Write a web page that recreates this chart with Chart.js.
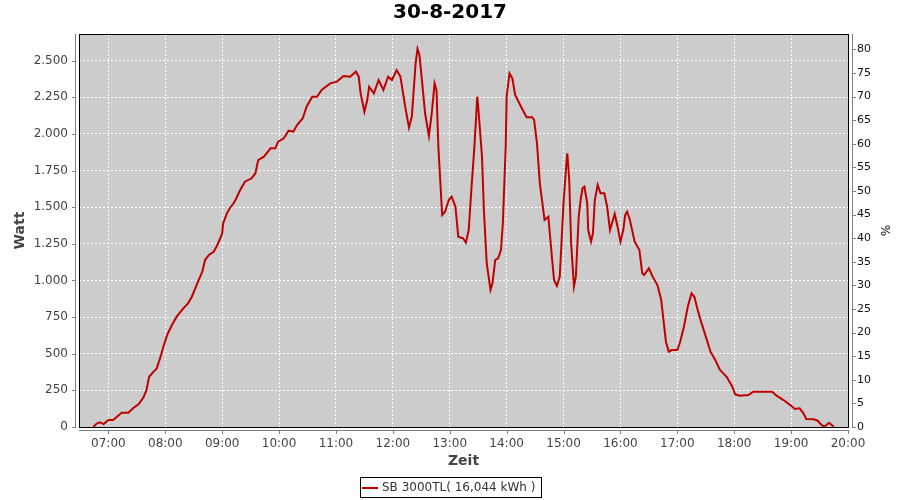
<!DOCTYPE html>
<html lang="de">
<head>
    <meta charset="UTF-8">
    <title>30-8-2017</title>
    <script src="https://cdn.jsdelivr.net/npm/chart.js"></script>
    <style>
        body {
            margin: 0;
            background: #ffffff;
        }
        #wrap {
            width: 900px;
            height: 500px;
        }
    </style>
</head>
<body>
    <div id="wrap"><canvas id="solarChart" width="900" height="500"></canvas></div>

    <script>
        // readings of the day (time of day, power in W)
        const times = [
            '06:44', '06:48', '06:51', '06:55', '07:00', '07:05', '07:14', '07:21', '07:26', '07:32',
            '07:37', '07:40', '07:43', '07:47', '07:51', '07:55', '07:58', '08:02', '08:07', '08:12',
            '08:19', '08:24', '08:28', '08:33', '08:39', '08:42', '08:46', '08:51', '08:54', '08:58',
            '09:00', '09:01', '09:05', '09:08', '09:12', '09:14', '09:19', '09:24', '09:31', '09:35',
            '09:38', '09:44', '09:51', '09:56', '09:59', '10:05', '10:10', '10:15', '10:19', '10:25',
            '10:29', '10:35', '10:40', '10:45', '10:54', '11:01', '11:08', '11:15', '11:21', '11:24',
            '11:26', '11:30', '11:33', '11:35', '11:40', '11:45', '11:50', '11:55', '11:59', '12:04',
            '12:08', '12:13', '12:17', '12:20', '12:24', '12:26', '12:28', '12:31', '12:34', '12:38',
            '12:41', '12:44', '12:46', '12:48', '12:52', '12:55', '12:59', '13:02', '13:06', '13:09',
            '13:14', '13:17', '13:20', '13:23', '13:26', '13:29', '13:30', '13:34', '13:36', '13:39',
            '13:43', '13:45', '13:48', '13:51', '13:54', '13:56', '13:59', '14:00', '14:03', '14:06',
            '14:09', '14:16', '14:21', '14:27', '14:29', '14:32', '14:35', '14:40', '14:42', '14:44',
            '14:48', '14:50', '14:53', '14:56', '15:00', '15:03', '15:04', '15:06', '15:08', '15:11',
            '15:13', '15:16', '15:18', '15:20', '15:22', '15:25', '15:26', '15:29', '15:31', '15:33',
            '15:36', '15:39', '15:43', '15:46', '15:49', '15:54', '15:57', '16:00', '16:03', '16:05',
            '16:07', '16:10', '16:15', '16:20', '16:23', '16:25', '16:30', '16:34', '16:39', '16:43',
            '16:45', '16:48', '16:51', '16:54', '17:00', '17:03', '17:07', '17:11', '17:15', '17:18',
            '17:21', '17:25', '17:29', '17:35', '17:40', '17:45', '17:52', '17:58', '18:01', '18:06',
            '18:15', '18:20', '18:29', '18:40', '18:45', '18:52', '18:59', '19:04', '19:09', '19:13',
            '19:16', '19:24', '19:28', '19:32', '19:35', '19:40', '19:45'
        ];
        const watts = [
            0, 25, 32, 20, 48, 48, 98, 98, 128, 157,
            203, 248, 343, 373, 400, 480, 548, 628, 696, 753,
            810, 844, 889, 969, 1060, 1140, 1174, 1196, 1230, 1288,
            1322, 1390, 1458, 1493, 1527, 1549, 1617, 1674, 1697, 1731,
            1822, 1845, 1902, 1902, 1947, 1970, 2022, 2015, 2061, 2107,
            2186, 2254, 2254, 2300, 2345, 2357, 2395, 2391, 2425, 2391,
            2277, 2152, 2232, 2322, 2277, 2368, 2300, 2391, 2368, 2436,
            2391, 2186, 2043, 2118, 2482, 2580, 2539, 2345, 2141, 1986,
            2141, 2345, 2300, 1913, 1447, 1469, 1549, 1572, 1503, 1299,
            1288, 1258, 1344, 1640, 1913, 2254, 2186, 1845, 1481, 1117,
            935, 981, 1140, 1151, 1208, 1390, 1913, 2254, 2413, 2380,
            2266, 2175, 2114, 2114, 2095, 1936, 1663, 1413, 1424, 1435,
            1140, 1003, 962, 1026, 1527, 1800, 1868, 1686, 1254, 958,
            1026, 1435, 1549, 1629, 1640, 1527, 1344, 1265, 1322, 1549,
            1652, 1595, 1595, 1503, 1344, 1454, 1367, 1265, 1344, 1447,
            1469, 1413, 1265, 1208, 1049, 1037, 1083, 1026, 969, 867,
            753, 582, 514, 525, 525, 582, 685, 821, 912, 889,
            810, 719, 639, 514, 457, 389, 343, 275, 223, 214,
            218, 241, 241, 241, 212, 184, 150, 123, 128, 93,
            55, 53, 43, 14, 2, 29, 2
        ];

        // axis ticks
        const hourTicks = ['07:00', '08:00', '09:00', '10:00', '11:00', '12:00', '13:00',
                           '14:00', '15:00', '16:00', '17:00', '18:00', '19:00', '20:00'];
        const wattTicks = [0, 250, 500, 750, 1000, 1250, 1500, 1750, 2000, 2250, 2500];
        const pctTicks = [0, 5, 10, 15, 20, 25, 30, 35, 40, 45, 50, 55, 60, 65, 70, 75, 80];

        const seriesLabel = 'SB 3000TL( 16,044 kWh )';

        function toMinutes(t) {
            const p = t.split(':');
            return parseInt(p[0], 10) * 60 + parseInt(p[1], 10);
        }
        function fmtTime(m) {
            const h = Math.floor(m / 60), mm = Math.round(m % 60);
            return String(h).padStart(2, '0') + ':' + String(mm).padStart(2, '0');
        }
        function fmtWatt(v) {
            if (v < 1000) return String(v);
            return Math.floor(v / 1000) + '.' + String(v % 1000).padStart(3, '0');
        }

        const points = times.map((t, i) => ({ x: toMinutes(t), y: watts[i] }));

        Chart.defaults.font.family = "'DejaVu Sans', sans-serif";
        Chart.defaults.color = '#444';

        // plot background, frame, offset axis lines, tick marks and legend box
        const plotDecor = {
            id: 'plotDecor',
            beforeDraw(chart) {
                const { ctx, chartArea: a } = chart;
                ctx.save();
                ctx.fillStyle = '#ffffff';
                ctx.fillRect(0, 0, chart.width, chart.height);
                ctx.fillStyle = '#cccccc';
                ctx.fillRect(a.left, a.top, a.right - a.left, a.bottom - a.top);
                ctx.restore();
            },
            afterDraw(chart) {
                const { ctx, chartArea: a, scales } = chart;
                ctx.save();
                ctx.strokeStyle = '#000';
                ctx.lineWidth = 1;
                ctx.strokeRect(a.left + 0.5, a.top + 0.5, a.right - a.left, a.bottom - a.top);

                ctx.fillStyle = '#808080';
                // left axis
                ctx.fillRect(a.left - 4, a.top, 1, a.bottom - a.top + 1);
                scales.y.ticks.forEach(t => {
                    const y = Math.round(scales.y.getPixelForValue(t.value));
                    ctx.fillRect(a.left - 7, y, 4, 1);
                });
                // right axis
                ctx.fillRect(a.right + 4, a.top, 1, a.bottom - a.top + 1);
                scales.y2.ticks.forEach(t => {
                    const y = Math.round(scales.y2.getPixelForValue(t.value));
                    ctx.fillRect(a.right + 4, y, 4, 1);
                });
                // bottom axis
                ctx.fillRect(a.left, a.bottom + 3, a.right - a.left + 1, 1);
                scales.x.ticks.forEach(t => {
                    const x = Math.round(scales.x.getPixelForValue(t.value));
                    ctx.fillRect(x, a.bottom + 3, 1, 4);
                });

                // legend
                const ds = chart.data.datasets[0];
                ctx.font = "12px 'DejaVu Sans', sans-serif";
                const tw = ctx.measureText(ds.label).width;
                const boxW = Math.round(tw + 28);
                const bx = Math.round(chart.width / 2 - boxW / 2);
                const by = 477;
                ctx.strokeStyle = '#000';
                ctx.strokeRect(bx + 0.5, by + 0.5, boxW, 20);
                ctx.strokeStyle = ds.borderColor;
                ctx.lineWidth = 2;
                ctx.beginPath();
                ctx.moveTo(bx + 2, by + 11);
                ctx.lineTo(bx + 18, by + 11);
                ctx.stroke();
                ctx.fillStyle = '#333';
                ctx.textBaseline = 'middle';
                ctx.textAlign = 'left';
                ctx.fillText(ds.label, bx + 22, by + 11);
                ctx.restore();
            }
        };

        const ctx = document.getElementById('solarChart').getContext('2d');
        const solarChart = new Chart(ctx, {
            type: 'line',
            data: {
                datasets: [{
                    label: seriesLabel,
                    data: points,
                    borderColor: '#c00000',
                    borderWidth: 2,
                    pointRadius: 0,
                    tension: 0,
                    fill: false,
                    yAxisID: 'y'
                }]
            },
            options: {
                responsive: false,
                animation: false,
                layout: {
                    padding: { left: 0, right: 0, top: 0, bottom: 28 }
                },
                plugins: {
                    legend: { display: false },
                    tooltip: { enabled: false },
                    title: {
                        display: true,
                        text: '30-8-2017',
                        color: '#000',
                        font: { size: 20, weight: 'bold' },
                        padding: { top: 1, bottom: 9 }
                    }
                },
                scales: {
                    x: {
                        type: 'linear',
                        min: 389,
                        max: 1200,
                        afterBuildTicks: s => { s.ticks = hourTicks.map(t => ({ value: toMinutes(t) })); },
                        afterFit: s => { s.height = 45; },
                        ticks: {
                            callback: v => fmtTime(v),
                            autoSkip: false,
                            maxRotation: 0,
                            padding: 10,
                            color: '#444',
                            font: { size: 12 }
                        },
                        grid: { color: '#ffffff', lineWidth: 1, drawTicks: false },
                        border: { display: false, dash: [2, 2] },
                        title: {
                            display: true,
                            text: 'Zeit',
                            color: '#444',
                            font: { size: 14, weight: 'bold' },
                            padding: { top: 0, bottom: 2 }
                        }
                    },
                    y: {
                        position: 'left',
                        min: 0,
                        max: 2682,
                        afterBuildTicks: s => { s.ticks = wattTicks.map(v => ({ value: v })); },
                        afterFit: s => { s.width = 79; },
                        ticks: {
                            callback: v => fmtWatt(v),
                            padding: 11,
                            color: '#444',
                            font: { size: 12 }
                        },
                        grid: { color: '#ffffff', lineWidth: 1, drawTicks: false },
                        border: { display: false, dash: [2, 2] },
                        title: {
                            display: true,
                            text: 'Watt',
                            color: '#444',
                            font: { size: 14, weight: 'bold' },
                            padding: { top: 12, bottom: 0 }
                        }
                    },
                    y2: {
                        position: 'right',
                        min: 0,
                        max: 83.24,
                        afterBuildTicks: s => { s.ticks = pctTicks.map(v => ({ value: v })); },
                        afterFit: s => { s.width = 52; },
                        ticks: {
                            padding: 9,
                            color: '#111',
                            font: { size: 11 }
                        },
                        grid: { display: false, drawTicks: false },
                        border: { display: false },
                        title: {
                            display: true,
                            text: '%',
                            color: '#111',
                            font: { size: 12 },
                            padding: { top: 9, bottom: 0 }
                        }
                    }
                }
            },
            plugins: [plotDecor]
        });
    </script>
</body>
</html>
